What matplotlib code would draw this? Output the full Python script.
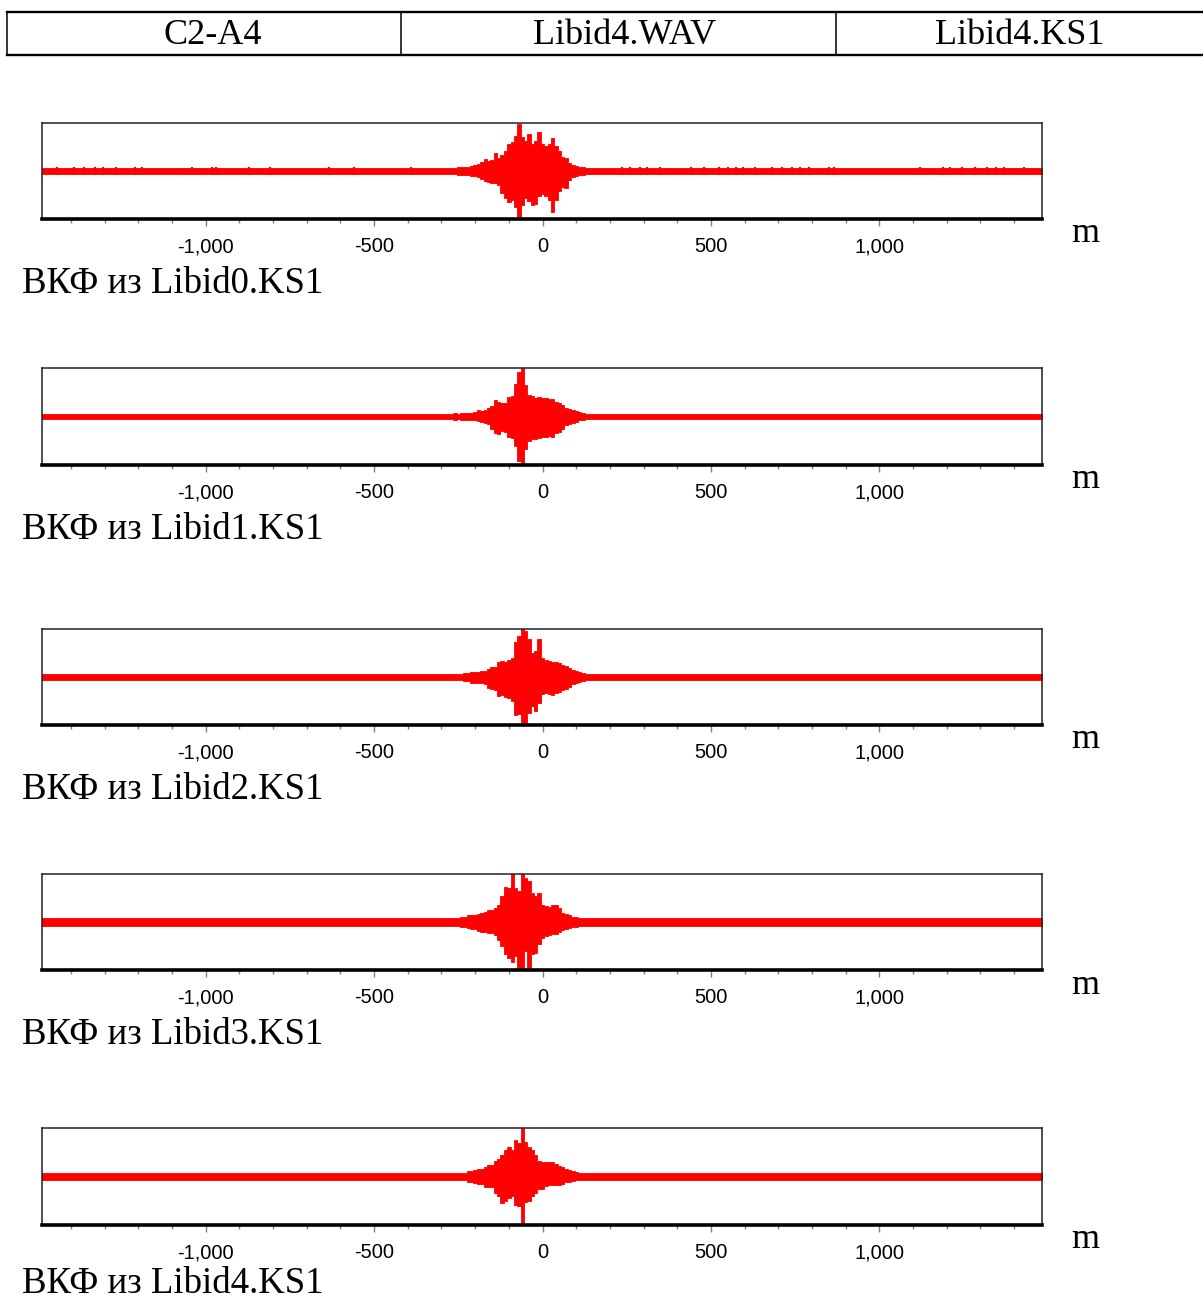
import matplotlib
matplotlib.use("Agg")
import matplotlib.pyplot as plt
from matplotlib.lines import Line2D
from matplotlib.ticker import FixedLocator, MultipleLocator

# header row of the sheet
HEADER_CELLS = ["C2-A4", "Libid4.WAV", "Libid4.KS1"]

CAPTIONS = [
    "ВКФ из Libid0.KS1",
    "ВКФ из Libid1.KS1",
    "ВКФ из Libid2.KS1",
    "ВКФ из Libid3.KS1",
    "ВКФ из Libid4.KS1",
]
X_UNIT = "m"
X_TICKS = [-1000, -500, 0, 500, 1000]
X_TICK_LABELS = ["-1,000", "-500", "0", "500", "1,000"]
X_RANGE = (-1486, 1483)

BURST_X = list(range(-300, 170, 10))

# envelope: upper (+) and lower (-) amplitude per lag
UP_0 = [0.06, 0.06, 0.06, 0.07, 0.07, 0.08, 0.08, 0.09, 0.09, 0.10, 0.12, 0.14,
        0.18, 0.24, 0.20, 0.23, 0.37, 0.28, 0.34, 0.42, 0.56, 0.60, 0.72, 0.98,
        0.70, 0.62, 0.78, 0.57, 0.62, 0.82, 0.56, 0.52, 0.57, 0.68, 0.52, 0.42,
        0.30, 0.27, 0.17, 0.13, 0.11, 0.09, 0.08, 0.07, 0.07, 0.06, 0.06]
LO_0 = [0.06, 0.06, 0.06, 0.07, 0.07, 0.08, 0.08, 0.09, 0.09, 0.10, 0.11, 0.12,
        0.16, 0.20, 0.22, 0.26, 0.24, 0.30, 0.46, 0.56, 0.65, 0.60, 0.75, 1.00,
        0.70, 0.57, 0.62, 0.70, 0.68, 0.52, 0.47, 0.52, 0.60, 0.85, 0.60, 0.42,
        0.34, 0.36, 0.18, 0.13, 0.11, 0.09, 0.08, 0.07, 0.07, 0.06, 0.06]

UP_1 = [0.05, 0.05, 0.06, 0.05, 0.07, 0.06, 0.07, 0.07, 0.07, 0.08, 0.09, 0.13,
        0.11, 0.13, 0.17, 0.22, 0.33, 0.30, 0.27, 0.27, 0.40, 0.42, 0.68, 0.92,
        1.05, 0.64, 0.45, 0.43, 0.38, 0.40, 0.38, 0.38, 0.36, 0.37, 0.29, 0.27,
        0.23, 0.17, 0.16, 0.14, 0.11, 0.09, 0.07, 0.06, 0.05, 0.05, 0.05]
LO_1 = [0.05, 0.05, 0.06, 0.05, 0.07, 0.06, 0.07, 0.07, 0.07, 0.08, 0.08, 0.09,
        0.11, 0.13, 0.16, 0.26, 0.33, 0.36, 0.30, 0.31, 0.43, 0.45, 0.60, 0.91,
        1.05, 0.67, 0.50, 0.46, 0.46, 0.44, 0.43, 0.42, 0.40, 0.43, 0.33, 0.31,
        0.26, 0.17, 0.16, 0.13, 0.11, 0.08, 0.07, 0.06, 0.05, 0.05, 0.05]

UP_2 = [0.07, 0.07, 0.06, 0.07, 0.07, 0.07, 0.07, 0.08, 0.09, 0.11, 0.11, 0.11,
        0.12, 0.13, 0.16, 0.21, 0.20, 0.31, 0.33, 0.31, 0.36, 0.40, 0.72, 0.85,
        1.00, 0.95, 0.80, 0.50, 0.55, 0.80, 0.40, 0.36, 0.34, 0.31, 0.31, 0.29,
        0.26, 0.23, 0.19, 0.15, 0.13, 0.10, 0.08, 0.07, 0.07, 0.07, 0.07]
LO_2 = [0.07, 0.07, 0.06, 0.07, 0.07, 0.07, 0.07, 0.08, 0.09, 0.12, 0.13, 0.13,
        0.13, 0.15, 0.23, 0.26, 0.28, 0.40, 0.38, 0.42, 0.44, 0.50, 0.80, 0.78,
        1.00, 0.95, 0.75, 0.60, 0.70, 0.55, 0.36, 0.33, 0.36, 0.38, 0.33, 0.31,
        0.27, 0.26, 0.21, 0.15, 0.13, 0.10, 0.08, 0.07, 0.07, 0.07, 0.07]

UP_3 = [0.08, 0.08, 0.08, 0.08, 0.09, 0.08, 0.10, 0.11, 0.14, 0.15, 0.15, 0.16,
        0.19, 0.21, 0.26, 0.24, 0.30, 0.36, 0.55, 0.72, 0.70, 1.00, 0.70, 0.65,
        1.00, 0.92, 0.85, 0.60, 0.55, 0.60, 0.36, 0.34, 0.32, 0.35, 0.35, 0.30,
        0.18, 0.17, 0.15, 0.11, 0.10, 0.09, 0.08, 0.08, 0.08, 0.08, 0.08]
LO_3 = [0.08, 0.08, 0.08, 0.08, 0.09, 0.08, 0.10, 0.11, 0.13, 0.15, 0.15, 0.19,
        0.21, 0.21, 0.23, 0.23, 0.27, 0.38, 0.50, 0.67, 0.75, 0.83, 0.70, 0.98,
        0.97, 0.60, 0.97, 0.67, 0.65, 0.45, 0.34, 0.29, 0.27, 0.26, 0.25, 0.21,
        0.16, 0.15, 0.13, 0.11, 0.10, 0.09, 0.08, 0.08, 0.08, 0.08, 0.08]

UP_4 = [0.07, 0.07, 0.07, 0.07, 0.07, 0.07, 0.08, 0.08, 0.11, 0.11, 0.13, 0.16,
        0.16, 0.19, 0.23, 0.23, 0.31, 0.36, 0.45, 0.55, 0.60, 0.55, 0.76, 0.70,
        1.00, 0.72, 0.60, 0.55, 0.45, 0.31, 0.29, 0.30, 0.29, 0.29, 0.26, 0.21,
        0.19, 0.15, 0.13, 0.11, 0.09, 0.08, 0.07, 0.07, 0.07, 0.07, 0.07]
LO_4 = [0.07, 0.07, 0.07, 0.07, 0.07, 0.07, 0.08, 0.08, 0.11, 0.11, 0.13, 0.15,
        0.16, 0.21, 0.21, 0.21, 0.35, 0.41, 0.55, 0.50, 0.45, 0.40, 0.59, 0.60,
        1.00, 0.52, 0.50, 0.41, 0.35, 0.25, 0.25, 0.19, 0.18, 0.18, 0.18, 0.18,
        0.15, 0.11, 0.11, 0.09, 0.08, 0.07, 0.07, 0.07, 0.07, 0.07, 0.07]

# background noise level away from the burst
QUIET = [0.06, 0.05, 0.07, 0.08, 0.07]

# small isolated spikes on the Libid0 trace
BLIPS_0 = [-1440, -1390, -1360, -1330, -1305, -1265, -1210, -1190, -1040, -980,
           -970, -870, -810, -635, -560, -390, 235, 260, 290, 310, 350, 440, 480,
           525, 550, 575, 595, 630, 680, 710, 740, 765, 790, 850, 865, 1120, 1190,
           1210, 1245, 1285, 1320, 1345, 1370, 1430]
BLIP_AMP = 0.09

UPPERS = [UP_0, UP_1, UP_2, UP_3, UP_4]
LOWERS = [LO_0, LO_1, LO_2, LO_3, LO_4]
BLIPS = [BLIPS_0, [], [], [], []]

W, H = 1203, 1303
PANEL_TB = [(123, 219), (368, 465), (629, 725), (874, 970), (1128, 1225)]
RED = "#ff0000"
SERIF = ["Liberation Serif", "DejaVu Serif"]
SANS = ["Liberation Sans", "DejaVu Sans"]


def fx(px):
    return px / W


def fy(py):
    return 1 - py / H


fig = plt.figure(figsize=(W / 100, H / 100), dpi=100)

# header table
top_y, bot_y = 12, 54.5
for yy in (top_y, bot_y):
    fig.add_artist(Line2D([fx(7), fx(1210)], [fy(yy), fy(yy)], color="black",
                          lw=1.7, transform=fig.transFigure))
for xx in (7, 401, 836):
    fig.add_artist(Line2D([fx(xx), fx(xx)], [fy(top_y), fy(bot_y)], color="black",
                          lw=1.1, transform=fig.transFigure))
for label, cx in zip(HEADER_CELLS, [213, 625, 1020]):
    fig.text(fx(cx), fy(35), label, ha="center", va="center",
             fontsize=26, family=SERIF)

for k, (t, b) in enumerate(PANEL_TB):
    ax = fig.add_axes([fx(42), fy(b), fx(1042) - fx(42), (b - t) / H])
    q = QUIET[k]
    xs = [X_RANGE[0] - 10] + BURST_X + [X_RANGE[1] + 10]
    up = [q] + UPPERS[k] + [q]
    lo = [-q] + [-v for v in LOWERS[k]] + [-q]
    ax.fill_between(xs, lo, up, step="mid", color=RED, lw=0.6, edgecolor=RED)
    if BLIPS[k]:
        ax.vlines(BLIPS[k], -BLIP_AMP, BLIP_AMP, color=RED, lw=1.6)

    ax.set_xlim(*X_RANGE)
    ax.set_ylim(-1.0, 1.0)
    ax.set_yticks([])
    ax.xaxis.set_major_locator(FixedLocator(X_TICKS))
    ax.set_xticklabels(X_TICK_LABELS, family=SANS, fontsize=14.5)
    ax.xaxis.set_minor_locator(MultipleLocator(100))
    ax.tick_params(axis="x", which="major", direction="out", length=5, width=1.0,
                   color="#808080", pad=8)
    ax.tick_params(axis="x", which="minor", direction="out", length=3, width=1.0,
                   color="#808080")
    for side in ("top", "left", "right"):
        ax.spines[side].set_linewidth(1.1)
        ax.spines[side].set_color("#222222")
    ax.spines["bottom"].set_linewidth(2.6)
    ax.spines["bottom"].set_color("black")

    fig.text(fx(1071), fy(b + 15), X_UNIT, ha="left", va="center",
             fontsize=26, family=SERIF)
    # keep the last caption (incl. its descent) inside the sheet
    base = min(b + 74, H - 10)
    fig.text(fx(22), fy(base), CAPTIONS[k], ha="left", va="baseline",
             fontsize=26.5, family=SERIF)

fig.savefig("out.png", dpi=100)
